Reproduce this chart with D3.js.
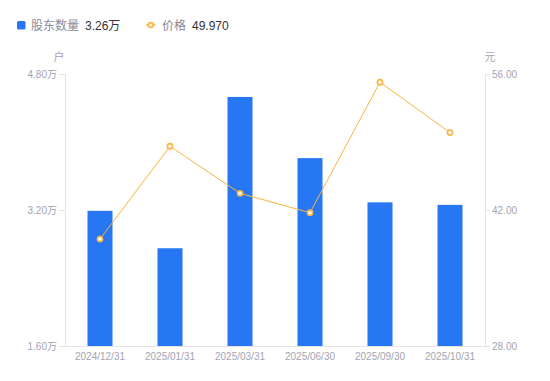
<!DOCTYPE html>
<html><head><meta charset="utf-8">
<script src="https://cdn.jsdelivr.net/npm/d3@7"></script>
<style>
html,body{margin:0;padding:0;background:#fff;}
svg{display:block;font-family:"Liberation Sans","Noto Sans CJK SC",sans-serif;}
</style></head>
<body><svg id="c" width="550" height="381"></svg>
<script>
const categories = ["2024/12/31","2025/01/31","2025/03/31","2025/06/30","2025/09/30","2025/10/31"];
const holders = [3.19, 2.75, 4.53, 3.81, 3.29, 3.26]; // 万户
const prices = [39.01, 48.56, 43.72, 41.72, 55.15, 49.97];
const leftTicks = [1.6, 3.2, 4.8];
const rightTicks = [28, 42, 56];
const legendNames = ["股东数量", "价格"];
const legendValues = ["3.26万", "49.970"];

const FONT = "'Liberation Sans','Noto Sans CJK SC',sans-serif";
const svg = d3.select("#c");
const m = {l:65, r:485, t:74, b:346};
const barColor = "#2777f5", lineColor = "#fbb33f", axisColor = "#e3e3e8", textColor = "#a3a3b3";

const x = d3.scaleBand().domain(categories).range([m.l, m.r]).paddingInner(0).paddingOuter(0);
const yL = d3.scaleLinear().domain([1.6, 4.8]).range([m.b, m.t]);
const yR = d3.scaleLinear().domain([28, 56]).range([m.b, m.t]);
const bw = 25;

// axes
const gL = svg.append("g").attr("transform", `translate(${m.l},0)`)
  .call(d3.axisLeft(yL).tickValues(leftTicks).tickSize(6).tickPadding(2).tickFormat(d => d.toFixed(2) + "万"));
const gR = svg.append("g").attr("transform", `translate(${m.r},0)`)
  .call(d3.axisRight(yR).tickValues(rightTicks).tickSize(5).tickPadding(2).tickFormat(d => d.toFixed(2)));
const gB = svg.append("g").attr("transform", `translate(0,${m.b})`)
  .call(d3.axisBottom(x).tickSize(0).tickPadding(7));
[gL, gR, gB].forEach(g => {
  g.selectAll("path.domain").attr("stroke", axisColor);
  g.selectAll(".tick line").attr("stroke", axisColor);
  g.selectAll("text").attr("fill", textColor).attr("font-size", 10).attr("font-family", FONT);
});
gB.select("path.domain").attr("d", `M${m.l - 6},0.5H${m.r + 5}`);

// unit labels
svg.append("text").attr("x", 59).attr("y", 61).attr("text-anchor", "middle")
  .attr("fill", textColor).attr("font-size", 11).text("户");
svg.append("text").attr("x", 490).attr("y", 61).attr("text-anchor", "middle")
  .attr("fill", textColor).attr("font-size", 11).text("元");

// bars
svg.append("g").selectAll("rect").data(holders).join("rect")
  .attr("x", (d, i) => x(categories[i]) + x.bandwidth() / 2 - bw / 2)
  .attr("y", d => yL(d))
  .attr("width", bw)
  .attr("height", d => yL(1.6) - yL(d))
  .attr("fill", barColor);

// line
const cx = i => x(categories[i]) + x.bandwidth() / 2;
svg.append("path").datum(prices)
  .attr("fill", "none").attr("stroke", lineColor).attr("stroke-width", 1)
  .attr("d", d3.line().x((d, i) => cx(i)).y(d => yR(d)));
svg.append("g").selectAll("circle").data(prices).join("circle")
  .attr("cx", (d, i) => cx(i)).attr("cy", d => yR(d)).attr("r", 2.6)
  .attr("fill", "#fff").attr("stroke", lineColor).attr("stroke-width", 1.6);

// legend
const lg = svg.append("g");
lg.append("rect").attr("x", 17).attr("y", 21).attr("width", 8.5).attr("height", 8.5).attr("rx", 1.5).attr("fill", barColor);
lg.append("text").attr("x", 31).attr("y", 29.5).attr("font-size", 12).attr("fill", "#8a8a99").text(legendNames[0]);
lg.append("text").attr("x", 85).attr("y", 29.5).attr("font-size", 12).attr("fill", "#333").text(legendValues[0]);
lg.append("line").attr("x1", 146).attr("x2", 155.5).attr("y1", 25).attr("y2", 25).attr("stroke", lineColor).attr("stroke-width", 1.5);
lg.append("circle").attr("cx", 150.8).attr("cy", 25).attr("r", 2.4).attr("fill", "#fff").attr("stroke", lineColor).attr("stroke-width", 1.6);
lg.append("text").attr("x", 162).attr("y", 29.5).attr("font-size", 12).attr("fill", "#8a8a99").text(legendNames[1]);
lg.append("text").attr("x", 192).attr("y", 29.5).attr("font-size", 12).attr("fill", "#333").text(legendValues[1]);
</script></body></html>
